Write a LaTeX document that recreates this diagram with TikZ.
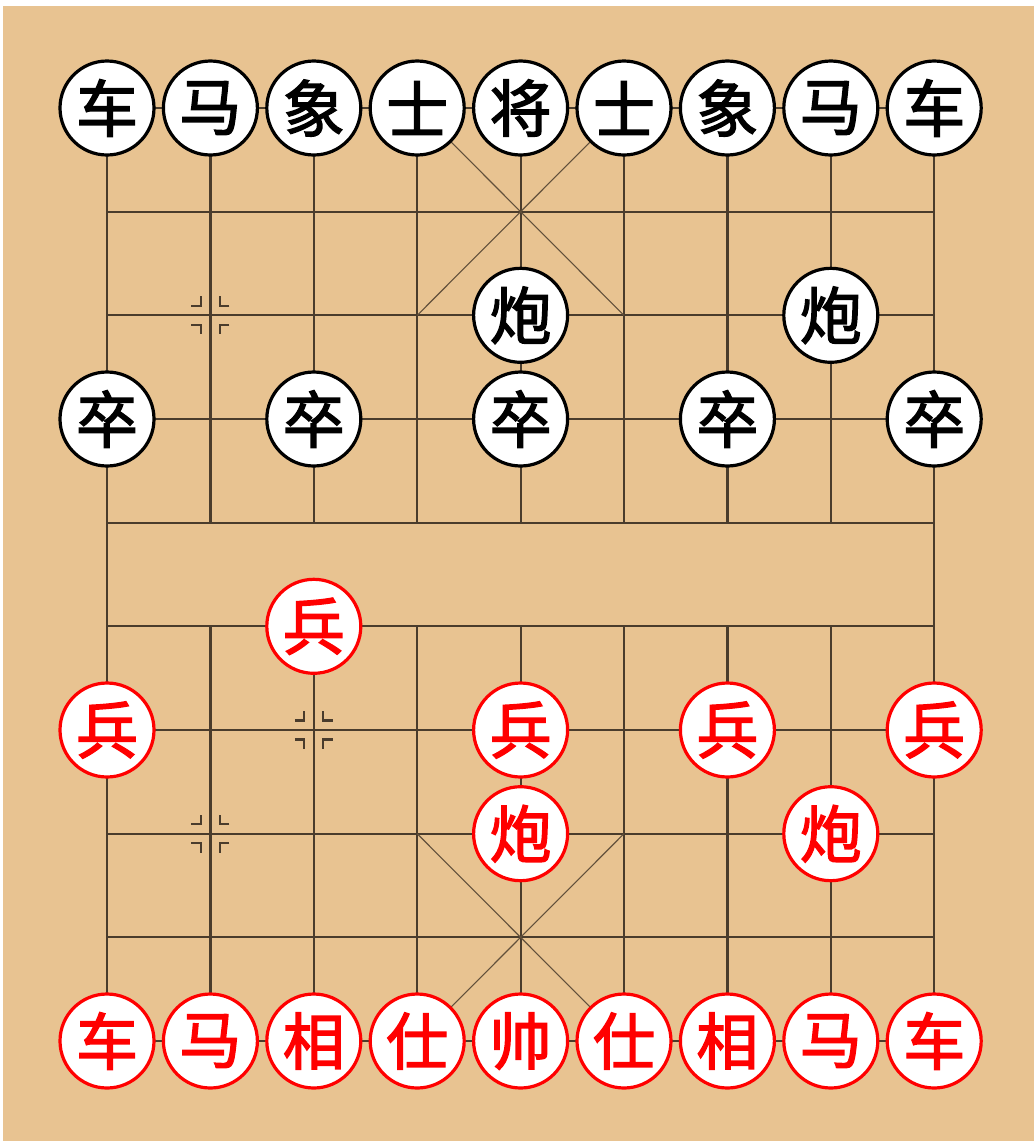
\documentclass[tikz,border=0pt]{standalone}
\usepackage{fontspec}
\newfontfamily\cjk[FakeBold=2.2]{Noto Sans CJK SC}
\definecolor{boardc}{HTML}{E8C391}
\definecolor{gridc}{HTML}{4A3C2C}
\definecolor{piecered}{HTML}{FF0000}
\newcommand\starmarkat[2]{%
  \foreach \sx in {-1,1}{\foreach \sy in {-1,1}{%
    \draw[markst] ({#1+\sx*19},{#2+\sy*9.5}) -- ({#1+\sx*9.5},{#2+\sy*9.5}) -- ({#1+\sx*9.5},{#2+\sy*19});}}}
\begin{document}
\begin{tikzpicture}[x=1pt,y=-1pt,
  gridline/.style={draw=gridc,line width=2.2pt},
  diagline/.style={draw=gridc!85!boardc,line width=1.1pt},
  markst/.style={draw=gridc,line width=2.2pt},
  bpiece/.style={circle,draw=black,fill=white,line width=3.2pt,minimum size=94pt,inner sep=0pt,
    font=\cjk\fontsize{62}{62}\selectfont,text=black},
  rpiece/.style={bpiece,draw=piecered,text=piecered}]
\useasboundingbox (0,0) rectangle (1034,1141);
\fill[white] (0,0) rectangle (1034,1141);
\fill[boardc] (3,6) rectangle (1034,1141);
\def\gx{103.4}\def\gy{103.67}
% horizontal lines
\foreach \j in {0,...,9}{\draw[gridline] (107,{108+\gy*\j}) -- (934.2,{108+\gy*\j});}
% outer verticals
\draw[gridline] (107,108) -- (107,1041);
\draw[gridline] (934.2,108) -- (934.2,1041);
% inner verticals
\foreach \i in {1,...,7}{
  \draw[gridline] ({107+\gx*\i},108) -- ({107+\gx*\i},{108+\gy*4});
  \draw[gridline] ({107+\gx*\i},{108+\gy*5}) -- ({107+\gx*\i},1041);}
% palaces
\draw[diagline] ({107+\gx*3},108) -- ({107+\gx*5},{108+\gy*2});
\draw[diagline] ({107+\gx*5},108) -- ({107+\gx*3},{108+\gy*2});
\draw[diagline] ({107+\gx*3},{108+\gy*7}) -- ({107+\gx*5},1041);
\draw[diagline] ({107+\gx*5},{108+\gy*7}) -- ({107+\gx*3},1041);
% position marks
\starmarkat{210.4}{315.3}
\starmarkat{313.8}{730}
\starmarkat{210.4}{833.7}
% black pieces
\node[bpiece] (b1) at (107,108) {车};
\node[bpiece] (b2) at (210.4,108) {马};
\node[bpiece] (b3) at (313.8,108) {象};
\node[bpiece] (b4) at (417.2,108) {士};
\node[bpiece] (b5) at (520.6,108) {将};
\node[bpiece] (b6) at (624,108) {士};
\node[bpiece] (b7) at (727.4,108) {象};
\node[bpiece] (b8) at (830.8,108) {马};
\node[bpiece] (b9) at (934.2,108) {车};
\node[bpiece] (bc1) at (520.6,315.3) {炮};
\node[bpiece] (bc2) at (830.8,315.3) {炮};
\node[bpiece] (bp1) at (107,419) {卒};
\node[bpiece] (bp2) at (313.8,419) {卒};
\node[bpiece] (bp3) at (520.6,419) {卒};
\node[bpiece] (bp4) at (727.4,419) {卒};
\node[bpiece] (bp5) at (934.2,419) {卒};
% red pieces
\node[rpiece] (rp2) at (313.8,626.3) {兵};
\node[rpiece] (rp1) at (107,730) {兵};
\node[rpiece] (rp3) at (520.6,730) {兵};
\node[rpiece] (rp4) at (727.4,730) {兵};
\node[rpiece] (rp5) at (934.2,730) {兵};
\node[rpiece] (rc1) at (520.6,833.7) {炮};
\node[rpiece] (rc2) at (830.8,833.7) {炮};
\node[rpiece] (r1) at (107,1041) {车};
\node[rpiece] (r2) at (210.4,1041) {马};
\node[rpiece] (r3) at (313.8,1041) {相};
\node[rpiece] (r4) at (417.2,1041) {仕};
\node[rpiece] (r5) at (520.6,1041) {帅};
\node[rpiece] (r6) at (624,1041) {仕};
\node[rpiece] (r7) at (727.4,1041) {相};
\node[rpiece] (r8) at (830.8,1041) {马};
\node[rpiece] (r9) at (934.2,1041) {车};
\end{tikzpicture}
\end{document}
